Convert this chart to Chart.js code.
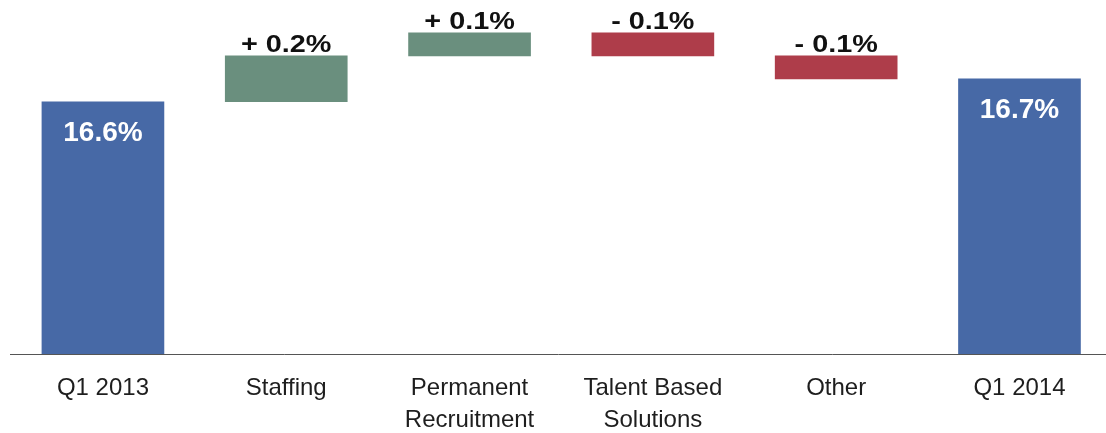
<!DOCTYPE html>
<html>
<head>
<meta charset="utf-8">
<script src="https://cdn.jsdelivr.net/npm/chart.js@4/dist/chart.umd.min.js"></script>
<style>
  html, body { margin: 0; padding: 0; background: #ffffff; }
  #wrap { width: 1106px; height: 433px; }
</style>
</head>
<body>
<div id="wrap"><canvas id="c" width="1106" height="433"></canvas></div>
<script>
// ---- data ----
const categories = [
  ['Q1 2013'],
  ['Staffing'],
  ['Permanent', 'Recruitment'],
  ['Talent Based', 'Solutions'],
  ['Other'],
  ['Q1 2014']
];
const startTotal = 16.6;
const endTotal = 16.7;
const changes = [0.2, 0.1, -0.1, -0.1];
const totalLabels = ['16.6%', '16.7%'];
const changeLabels = ['+ 0.2%', '+ 0.1%', '- 0.1%', '- 0.1%'];

const yMin = 15.5;
const yMax = 17.0;

const colTotal = '#4769a6';
const colUp = '#6a8f7e';
const colDown = '#ae3d4a';

// build floating waterfall bars
const barData = [];
const barColors = [];
const barLabels = [];
barData.push({ x: 0, y: [yMin, startTotal] });
barColors.push(colTotal);
barLabels.push({ text: totalLabels[0], kind: 'total' });
let running = startTotal;
changes.forEach((d, i) => {
  const next = Math.round((running + d) * 1000) / 1000;
  barData.push({ x: i + 1, y: [running, next] });
  barColors.push(d >= 0 ? colUp : colDown);
  barLabels.push({ text: changeLabels[i], kind: 'change' });
  running = next;
});
barData.push({ x: categories.length - 1, y: [yMin, endTotal] });
barColors.push(colTotal);
barLabels.push({ text: totalLabels[1], kind: 'total' });

const labelPlugin = {
  id: 'wfLabels',
  afterDatasetsDraw(chart) {
    const ctx = chart.ctx;
    const meta = chart.getDatasetMeta(0);
    meta.data.forEach((el, i) => {
      const info = barLabels[i];
      const top = Math.min(el.y, el.base);
      ctx.save();
      if (info.kind === 'total') {
        ctx.font = 'bold 28px "Liberation Sans", Arial, sans-serif';
        ctx.fillStyle = '#ffffff';
        ctx.textAlign = 'center';
        ctx.textBaseline = 'alphabetic';
        ctx.fillText(info.text, el.x, top + 39);
      } else {
        ctx.font = 'bold 24px "Liberation Sans", Arial, sans-serif';
        ctx.fillStyle = '#111111';
        ctx.textAlign = 'center';
        ctx.textBaseline = 'alphabetic';
        ctx.translate(el.x, top - 4);
        ctx.scale(1.2, 1);
        ctx.fillText(info.text, 0, 0);
      }
      ctx.restore();
    });
  }
};

new Chart(document.getElementById('c'), {
  type: 'bar',
  data: {
    datasets: [{
      data: barData,
      backgroundColor: barColors,
      borderWidth: 0,
      barThickness: 122
    }]
  },
  options: {
    responsive: false,
    animation: false,
    layout: { padding: { left: 10, right: 0, top: 10, bottom: 0 } },
    plugins: {
      legend: { display: false },
      tooltip: { enabled: false },
      title: { display: false }
    },
    scales: {
      x: {
        type: 'linear',
        offset: false,
        min: -0.507,
        max: 5.472,
        z: 1,
        grid: { display: false, drawTicks: false },
        border: { display: true, color: '#555555', width: 1 },
        afterBuildTicks: (scale) => {
          scale.ticks = categories.map((_, i) => ({ value: i }));
        },
        afterFit: (scale) => {
          scale.height = 79;
        },
        ticks: {
          autoSkip: false,
          maxRotation: 0,
          minRotation: 0,
          padding: 19,
          color: '#1e1e1e',
          font: { family: '"Liberation Sans", Arial, sans-serif', size: 24, lineHeight: 1.32 },
          callback: (v) => categories[v]
        }
      },
      y: {
        display: false,
        min: yMin,
        max: yMax
      }
    }
  },
  plugins: [labelPlugin]
});
</script>
</body>
</html>
